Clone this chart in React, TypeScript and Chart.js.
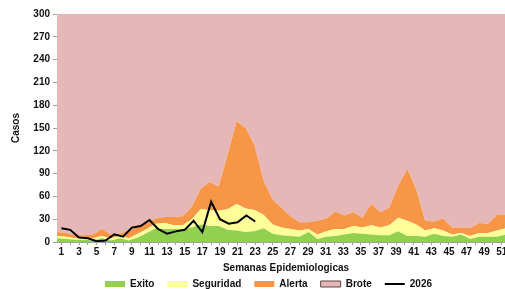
import { useEffect, useRef } from 'react';
import { Chart, registerables } from 'chart.js';

Chart.register(...registerables);

// Semanas epidemiológicas (categorías)
const weeks = [
  1, 2, 3, 4, 5, 6, 7, 8, 9, 10, 11, 12, 13, 14, 15, 16, 17, 18, 19, 20, 21, 22, 23, 24, 25, 26,
  27, 28, 29, 30, 31, 32, 33, 34, 35, 36, 37, 38, 39, 40, 41, 42, 43, 44, 45, 46, 47, 48, 49, 50, 51, 52,
];

// Límite superior de cada zona del canal endémico
const exitoTop = [
  5, 4, 3, 3, 2, 5, 2, 5, 2, 6, 12, 18, 17, 17, 17, 19, 23, 21, 21, 16, 15, 13, 14, 18, 11, 9,
  8, 7, 13, 4, 7, 8, 10, 12, 11, 10, 9, 9, 14, 8, 8, 7, 11, 8, 7, 10, 4, 7, 7, 7, 10, 9,
];
const seguridadTop = [
  8, 7, 5, 5, 5, 8, 5, 8, 5, 11, 17, 24, 25, 22, 22, 30, 43, 42, 41, 43, 50, 44, 42, 36, 23, 19,
  17, 15, 17, 10, 14, 17, 17, 21, 19, 22, 19, 22, 32, 28, 23, 15, 18, 15, 10, 12, 8, 12, 12, 15, 18, 17,
];
const alertaTop = [
  13, 12, 9, 9, 10, 17, 10, 11, 16, 20, 25, 31, 33, 33, 34, 46, 70, 79, 73, 115, 159, 150, 127, 81, 56, 45,
  34, 26, 26, 28, 31, 40, 35, 39, 32, 50, 39, 45, 74, 96, 69, 28, 27, 31, 19, 19, 18, 25, 24, 36, 36, 35,
];

// Casos 2026 (semanas 1..23)
const casos2026 = [18, 16, 6, 5, 1, 2, 10, 7, 19, 21, 29, 17, 11, 14, 16, 28, 13, 53, 30, 24, 26, 35, 27];

const yMin = 0;
const yMax = 300;
const yStep = 30;

const GREEN = '#92D050';
const YELLOW = '#FFFF99';
const ORANGE = '#F79646';
const PINK = '#E5B8B7';

const FONT = { family: "'Liberation Sans', Arial, sans-serif", size: 10, weight: 'bold' as const };

export default function App() {
  const ref = useRef<HTMLCanvasElement>(null);

  useEffect(() => {
    if (!ref.current) return;
    const pts = (arr: number[]) => arr.map((y, i) => ({ x: weeks[i], y }));

    const legendStyles = [
      { fill: GREEN, stroke: GREEN, lw: 0, ps: 'rect' },
      { fill: YELLOW, stroke: YELLOW, lw: 0, ps: 'rect' },
      { fill: ORANGE, stroke: ORANGE, lw: 0, ps: 'rect' },
      { fill: PINK, stroke: '#5a4646', lw: 1, ps: 'rect' },
      { fill: '#000', stroke: '#000', lw: 2, ps: 'line' },
    ];

    const areaBase = { xAxisID: 'xa', yAxisID: 'y', borderWidth: 0, pointRadius: 0, tension: 0 };

    const chart = new Chart(ref.current, {
      type: 'line',
      data: {
        datasets: [
          { ...areaBase, label: 'Exito', data: pts(exitoTop), backgroundColor: GREEN, borderColor: GREEN, fill: 'origin' },
          { ...areaBase, label: 'Seguridad', data: pts(seguridadTop), backgroundColor: YELLOW, borderColor: YELLOW, fill: '-1' },
          { ...areaBase, label: 'Alerta', data: pts(alertaTop), backgroundColor: ORANGE, borderColor: ORANGE, fill: '-1' },
          { ...areaBase, label: 'Brote', data: pts(alertaTop), backgroundColor: PINK, borderColor: PINK, fill: 'end' },
          {
            label: '2026',
            data: pts(casos2026),
            xAxisID: 'x',
            yAxisID: 'y',
            borderColor: '#000',
            backgroundColor: '#000',
            borderWidth: 2,
            pointRadius: 0,
            fill: false,
            tension: 0,
            order: -1,
          },
        ],
      } as any,
      options: {
        responsive: false,
        animation: false,
        devicePixelRatio: 1,
        layout: { padding: { top: 14, left: 0, right: 0, bottom: 0 } },
        scales: {
          x: {
            type: 'linear',
            position: 'bottom',
            min: 0.5,
            max: 52.5,
            afterBuildTicks: (s: any) => {
              s.ticks = weeks.map((w) => ({ value: w }));
            },
            ticks: {
              autoSkip: false,
              maxRotation: 0,
              minRotation: 0,
              padding: 1,
              color: '#111',
              font: FONT,
              callback: (v: any) => (Number(v) % 2 === 1 ? String(v) : ''),
            },
            grid: { display: true, drawOnChartArea: false, drawTicks: true, tickLength: 3, color: '#a0a0a0' },
            border: { display: true, color: '#a0a0a0' },
            title: {
              display: true,
              text: 'Semanas Epidemiologicas',
              color: '#111',
              font: FONT,
              padding: { top: 3, bottom: -8 },
            },
          },
          xa: {
            type: 'linear',
            display: false,
            min: weeks[0],
            max: weeks[weeks.length - 1],
          },
          y: {
            type: 'linear',
            position: 'left',
            min: yMin,
            max: yMax,
            afterFit: (s: any) => {
              s.width = 57;
            },
            ticks: { stepSize: yStep, padding: 3, color: '#111', font: FONT },
            grid: { display: true, drawOnChartArea: false, drawTicks: true, tickLength: 4, color: '#a0a0a0' },
            border: { display: false },
            title: { display: true, text: 'Casos', color: '#111', font: FONT, padding: { top: 10, bottom: 0 } },
          },
          yr: {
            type: 'linear',
            position: 'right',
            display: true,
            afterFit: (s: any) => {
              s.width = 22;
            },
            ticks: { display: false },
            grid: { display: false, drawTicks: false },
            border: { display: false },
          },
        },
        plugins: {
          tooltip: { enabled: false },
          legend: {
            display: true,
            position: 'bottom',
            align: 'center',
            labels: {
              color: '#111',
              font: FONT,
              padding: 13,
              boxWidth: 20,
              boxHeight: 6,
              usePointStyle: true,
              pointStyleWidth: 20,
              generateLabels: (c: any) =>
                c.data.datasets.map((ds: any, i: number) => ({
                  text: ds.label,
                  datasetIndex: i,
                  fillStyle: legendStyles[i].fill,
                  strokeStyle: legendStyles[i].stroke,
                  lineWidth: legendStyles[i].lw,
                  pointStyle: legendStyles[i].ps,
                  hidden: false,
                  fontColor: '#111',
                })),
            },
          },
        },
      } as any,
    });

    return () => chart.destroy();
  }, []);

  return (
    <div
      style={{
        position: 'fixed',
        left: 0,
        top: 0,
        width: 505,
        height: 289,
        overflow: 'hidden',
        background: '#fff',
      }}
    >
      <canvas ref={ref} width={537} height={299} style={{ display: 'block', width: 537, height: 299 }} />
    </div>
  );
}
